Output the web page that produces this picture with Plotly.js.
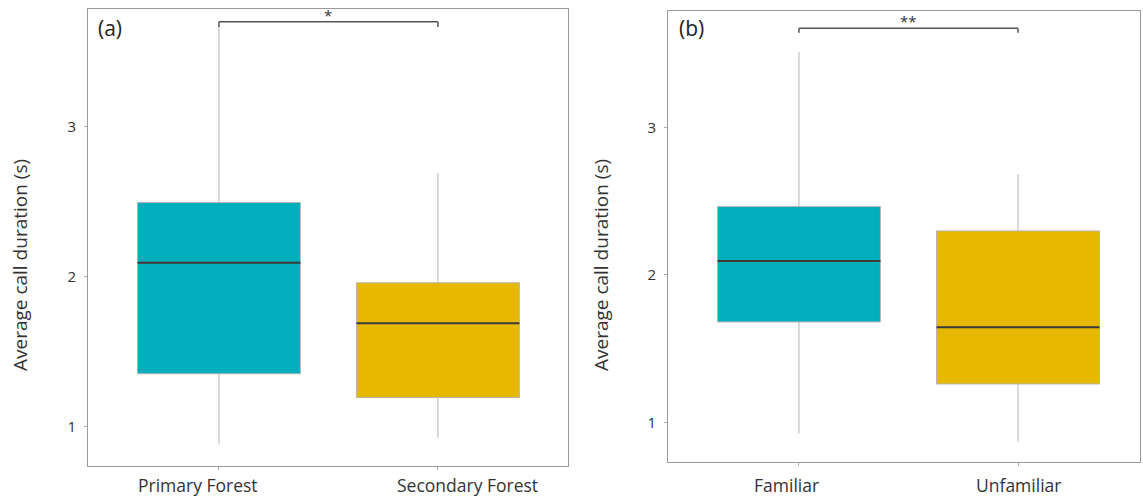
<!DOCTYPE html>
<html>
<head>
<meta charset="utf-8">
<script src="https://cdn.plot.ly/plotly-3.0.1.min.js"></script>
<style>html,body{margin:0;padding:0;background:#fff;}#chart{width:1143px;height:500px;}</style>
</head>
<body>
<div id="chart"></div>
<script>
// Panel (a): habitat
const catsA = ["Primary Forest", "Secondary Forest"];
const lowA = [0.882, 0.926];
const q1A = [1.352, 1.194];
const medA = [2.093, 1.689];
const q3A = [2.494, 1.959];
const highA = [3.667, 2.690];
const sigA = "*";
const bracketA = 3.70;

// Panel (b): familiarity
const catsB = ["Familiar", "Unfamiliar"];
const lowB = [0.928, 0.871];
const q1B = [1.682, 1.262];
const medB = [2.094, 1.646];
const q3B = [2.463, 2.298];
const highB = [3.508, 2.684];
const sigB = "**";
const bracketB = 3.670;

const yTicks = [1, 2, 3];
const yTitle = "Average call duration (s)";
const colors = ["#00AFBB", "#E7B800"];

const traces = [];
function addPanel(cats, low, q1, med, q3, high, xa, ya) {
  cats.forEach((c, i) => {
    traces.push({
      type: "box", x: [c], xaxis: xa, yaxis: ya,
      q1: [q1[i]], median: [med[i]], q3: [q3[i]],
      lowerfence: [low[i]], upperfence: [high[i]],
      width: 0.744, fillcolor: colors[i],
      line: {color: "#b5b5b5", width: 1},
      whiskerwidth: 0, hoverinfo: "skip", showlegend: false
    });
    traces.push({
      type: "box", x: [c], xaxis: xa, yaxis: ya,
      q1: [med[i]], median: [med[i]], q3: [med[i]],
      lowerfence: [med[i]], upperfence: [med[i]],
      width: 0.744, fillcolor: "rgba(0,0,0,0)",
      line: {color: "#3a3a3a", width: 2},
      whiskerwidth: 0, hoverinfo: "skip", showlegend: false
    });
  });
}
addPanel(catsA, lowA, q1A, medA, q3A, highA, "x", "y");
addPanel(catsB, lowB, q1B, medB, q3B, highB, "x2", "y2");

const font = {family: "Open Sans, Noto Sans, sans-serif", color: "#333"};
const axisCommon = {
  showline: true, mirror: true, linecolor: "#9a9a9a", linewidth: 1,
  ticks: "outside", ticklen: 3, tickcolor: "#aaa",
  showgrid: false, zeroline: false, fixedrange: true,
  tickfont: {size: 15, family: font.family, color: "#333"}
};
const xTickFont = {size: 17.5, family: font.family, color: "#333"};

function bracket(xr, yr, y, drop) {
  return [
    {type: "line", xref: xr, yref: yr, x0: 0, x1: 1, y0: y, y1: y, line: {color: "#555", width: 1.5}},
    {type: "line", xref: xr, yref: yr, x0: 0, x1: 0, y0: y, y1: y - drop, line: {color: "#555", width: 1.5}},
    {type: "line", xref: xr, yref: yr, x0: 1, x1: 1, y0: y, y1: y - drop, line: {color: "#555", width: 1.5}}
  ];
}

// category labels drawn as annotations (reference labels are slightly off-centre)
const labelShiftsA = [-21, 30];
const labelShiftsB = [-12, 0];
const catLabels = [];
catsA.forEach((c, i) => catLabels.push({xref: "x", yref: "paper", x: i, y: 1 - 485/500, text: c, showarrow: false,
  xanchor: "center", yanchor: "middle", xshift: labelShiftsA[i], font: xTickFont}));
catsB.forEach((c, i) => catLabels.push({xref: "x2", yref: "paper", x: i, y: 1 - 485/500, text: c, showarrow: false,
  xanchor: "center", yanchor: "middle", xshift: labelShiftsB[i], font: xTickFont}));

const layout = {
  width: 1143, height: 500,
  margin: {l: 0, r: 0, t: 0, b: 0},
  paper_bgcolor: "#fff", plot_bgcolor: "#fff",
  boxmode: "overlay",
  font: font,
  xaxis: Object.assign({}, axisCommon, {domain: [88/1143, 568/1143], anchor: "y", type: "category", range: [-0.598, 1.594], showticklabels: false}),
  yaxis: Object.assign({}, axisCommon, {domain: [1 - 466/500, 1 - 9/500], anchor: "x", range: [0.737, 3.785], tickvals: yTicks, ticklabelstandoff: 5}),
  xaxis2: Object.assign({}, axisCommon, {domain: [668/1143, 1140/1143], anchor: "y2", type: "category", range: [-0.598, 1.557], showticklabels: false}),
  yaxis2: Object.assign({}, axisCommon, {domain: [1 - 462/500, 1 - 11/500], anchor: "x2", range: [0.734, 3.787], tickvals: yTicks, ticklabelstandoff: 5}),
  shapes: [].concat(bracket("x", "y", bracketA, 0.035), bracket("x2", "y2", bracketB, 0.03)),
  annotations: [
    {xref: "x", yref: "y", x: 0.5, y: bracketA, text: sigA, showarrow: false, yanchor: "bottom", font: {size: 15, color: "#333"}, yshift: -5},
    {xref: "x2", yref: "y2", x: 0.5, y: bracketB, text: sigB, showarrow: false, yanchor: "bottom", font: {size: 15, color: "#333"}, yshift: -5},
    {xref: "paper", yref: "paper", x: 96/1143, y: 1 - 28/500, xanchor: "left", yanchor: "middle", text: "(a)", showarrow: false, font: {size: 21, color: "#222"}},
    {xref: "paper", yref: "paper", x: 677/1143, y: 1 - 28/500, xanchor: "left", yanchor: "middle", text: "(b)", showarrow: false, font: {size: 21, color: "#222"}},
    {xref: "paper", yref: "paper", x: 20/1143, y: 1 - 265/500, textangle: -90, xanchor: "center", yanchor: "middle", text: yTitle, showarrow: false, font: {size: 19, color: "#333"}},
    {xref: "paper", yref: "paper", x: 601/1143, y: 1 - 265/500, textangle: -90, xanchor: "center", yanchor: "middle", text: yTitle, showarrow: false, font: {size: 19, color: "#333"}}
  ].concat(catLabels)
};

Plotly.newPlot("chart", traces, layout, {displayModeBar: false, staticPlot: true});
</script>
</body>
</html>
